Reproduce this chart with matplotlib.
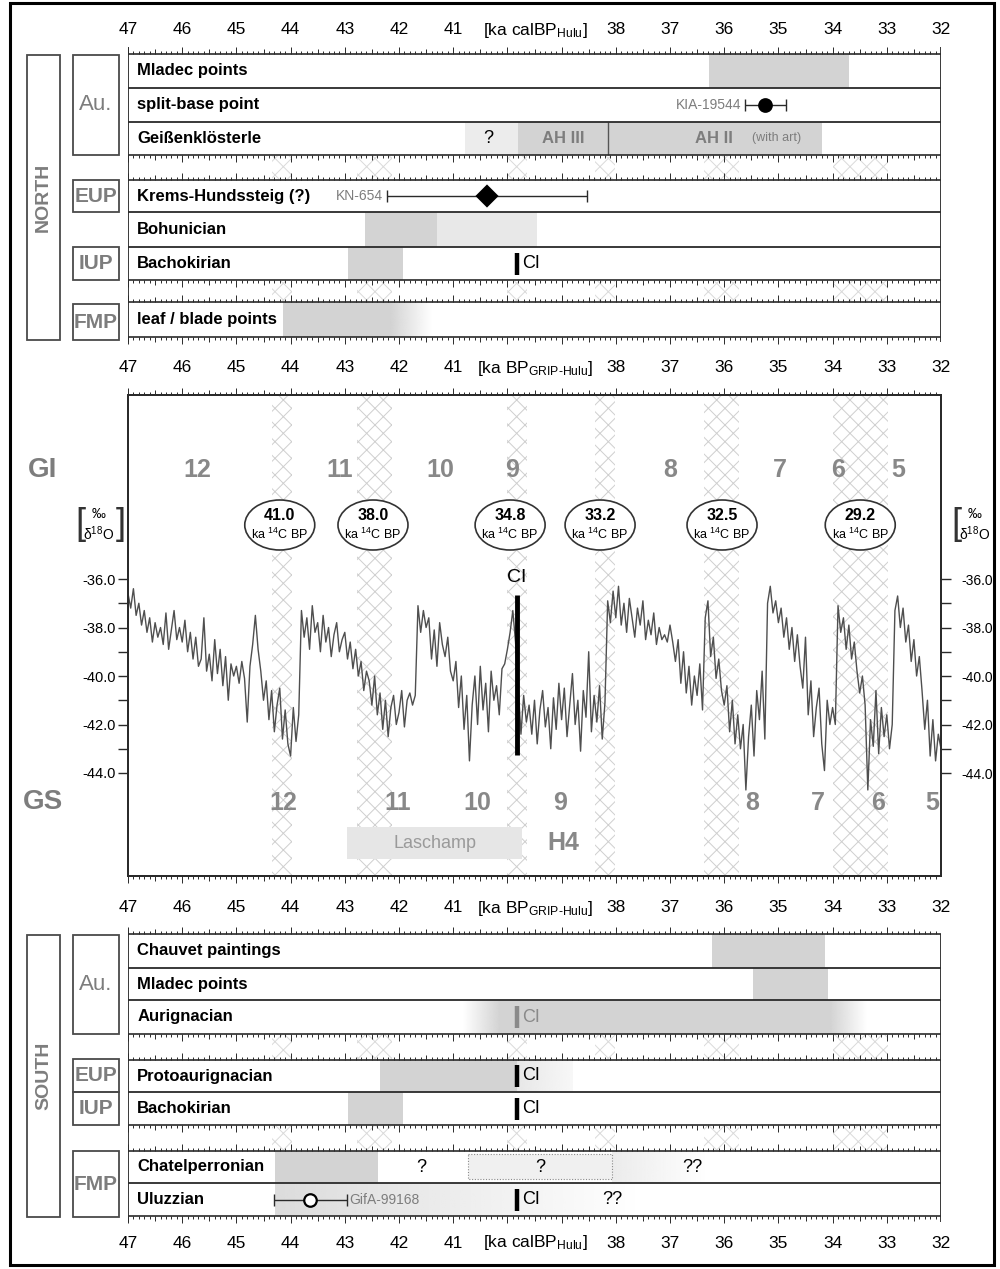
import numpy as np
import matplotlib
matplotlib.use("Agg")
import matplotlib.pyplot as plt
import matplotlib.colors as mcolors
from matplotlib.patches import Rectangle, Ellipse

plt.rcParams["font.family"] = ["Liberation Sans", "DejaVu Sans"]
plt.rcParams["mathtext.fontset"] = "custom"
plt.rcParams["mathtext.rm"] = "Liberation Sans"
plt.rcParams["mathtext.bf"] = "Liberation Sans:bold"
plt.rcParams["mathtext.default"] = "regular"
plt.rcParams["hatch.linewidth"] = 0.7

# ---- age axis ----
AGE_TICKS = [47, 46, 45, 44, 43, 42, 41, 38, 37, 36, 35, 34, 33, 32]

# ---- NGRIP d18O (permil), sampled every 0.05 ka from 47.0 to 32.0 ka ----
d18o = np.array([
    # 47.00 - 46.05
    -36.6, -37.2, -36.4, -37.5, -37.0, -37.9, -37.3, -38.2, -37.6, -38.6,
    -37.8, -38.4, -38.0, -38.7, -37.4, -38.9, -38.1, -37.3, -38.5, -38.0,
    # 46.00 - 45.05
    -38.6, -37.7, -39.0, -38.2, -39.3, -38.4, -39.6, -39.3, -37.6, -39.8,
    -39.1, -40.2, -38.5, -39.9, -38.9, -40.4, -39.2, -41.0, -39.5, -40.0,
    # 45.00 - 44.05
    -39.6, -40.3, -39.4, -40.1, -41.9, -39.6, -38.7, -37.5, -38.9, -39.8,
    -41.0, -40.2, -41.8, -40.6, -42.3, -41.2, -40.5, -42.6, -41.4, -42.8,
    # 44.00 - 43.05
    -43.3, -41.3, -42.7, -41.6, -37.3, -38.4, -37.6, -38.9, -37.1, -38.2,
    -37.8, -39.0, -37.5, -38.6, -38.0, -39.2, -38.3, -37.8, -39.0, -38.5,
    # 43.00 - 42.05
    -38.2, -39.3, -38.6, -39.7, -38.9, -40.0, -39.4, -40.6, -39.8, -40.2,
    -41.2, -40.0, -41.6, -40.7, -42.2, -41.0, -42.5, -41.3, -40.8, -42.0,
    # 42.00 - 41.05
    -41.5, -40.6, -42.1, -41.0, -40.7, -41.2, -40.8, -37.1, -38.2, -37.3,
    -38.0, -37.6, -39.3, -38.1, -39.6, -37.8, -38.7, -39.2, -38.4, -39.8,
    # 41.00 - 40.05
    -40.2, -39.4, -41.3, -40.0, -42.2, -40.8, -43.5, -41.2, -40.0, -42.0,
    -39.6, -41.4, -40.3, -42.3, -39.8, -41.0, -40.4, -41.6, -39.7, -39.5,
    # 40.00 - 39.05
    -38.9, -38.2, -37.3, -38.6, -40.5, -42.4, -40.8, -41.9, -41.2, -42.4,
    -41.0, -42.8, -41.4, -40.6, -42.1, -41.3, -43.0, -40.9, -42.2, -40.3,
    # 39.00 - 38.05
    -41.8, -40.5, -42.5, -41.2, -39.9, -42.0, -41.0, -43.1, -40.6, -41.7,
    -39.0, -42.3, -40.8, -41.9, -40.4, -42.6, -41.1, -36.9, -37.8, -36.5,
    # 38.00 - 37.05
    -37.6, -36.3, -37.9, -37.0, -38.2, -36.8, -37.6, -38.4, -37.2, -37.9,
    -36.9, -38.5, -37.7, -38.3, -37.4, -38.7, -38.0, -38.5, -38.3, -38.6,
    # 37.00 - 36.05
    -37.9, -38.6, -39.4, -38.5, -40.3, -39.0, -40.7, -39.6, -41.2, -40.0,
    -40.8, -39.5, -41.4, -37.6, -36.9, -39.2, -38.4, -40.1, -39.3, -40.6,
    # 36.00 - 35.05
    -41.2, -40.4, -42.3, -41.0, -42.8, -41.6, -43.0, -42.0, -44.7, -42.5,
    -41.2, -43.3, -40.6, -41.8, -39.8, -42.6, -37.0, -36.3, -37.4, -36.9,
    # 35.00 - 34.05
    -37.8, -37.2, -38.4, -37.6, -38.9, -38.0, -39.4, -38.3, -39.6, -40.5,
    -38.4, -41.6, -40.2, -42.5, -41.3, -40.5, -42.8, -43.9, -41.0, -42.0,
    # 34.00 - 33.05
    -41.3, -42.0, -37.1, -38.2, -37.6, -38.9, -37.9, -39.3, -38.6, -39.8,
    -40.7, -40.0, -41.2, -44.7, -41.8, -42.9, -40.6, -43.2, -41.3, -42.5,
    # 33.00 - 32.05
    -41.6, -43.0, -42.0, -37.3, -36.7, -38.0, -37.2, -38.6, -37.9, -39.4,
    -38.5, -40.0, -39.2, -40.6, -42.2, -41.0, -43.3, -41.8, -43.5, -42.4,
    # 32.00
    -43.0,
])
d18o_age = np.linspace(47.0, 32.0, d18o.size)

# ---- Greenland interstadials / stadials ----
gi_numbers = ["12", "11", "10", "9", "8", "7", "6", "5"]
gi_label_age = [45.73, 43.09, 41.24, 39.92, 37.00, 34.97, 33.90, 32.79]
gs_numbers = ["12", "11", "10", "9", "8", "7", "6", "5"]
gs_label_age = [44.14, 42.02, 40.56, 39.03, 35.49, 34.27, 33.16, 32.17]

# ---- radiocarbon tie points (hatched bands) ----
band_start = [44.34, 42.77, 40.00, 38.38, 36.37, 33.99]
band_end = [43.97, 42.13, 39.63, 38.01, 35.72, 32.97]
c14_ages = ["41.0", "38.0", "34.8", "33.2", "32.5", "29.2"]
c14_cal = [44.20, 42.48, 39.95, 38.29, 36.04, 33.49]

ci_age = 39.82
laschamp = (42.96, 39.73)
h4_age = 38.97

# ---- NORTH ----
north_rows = ["Mladec points", "split-base point", "Geißenklösterle",
              "Krems-Hundssteig (?)", "Bohunician", "Bachokirian",
              "leaf / blade points"]
mladec_north = (36.28, 33.70)
kia_date, kia_range = 35.25, (35.62, 34.86)
geiss_uncertain = (40.78, 39.80)
geiss_ah3 = (39.80, 38.14)
geiss_ah2 = (38.14, 34.20)
kn_date, kn_range = 40.38, (42.22, 38.53)
bohun_core = (42.63, 41.30)
bohun_late = (41.30, 39.45)
bacho = (42.94, 41.93)
leaf_blade = (44.14, 42.17, 41.40)  # solid start, solid end, fade end

# ---- SOUTH ----
south_rows = ["Chauvet paintings", "Mladec points", "Aurignacian",
              "Protoaurignacian", "Bachokirian", "Chatelperronian", "Uluzzian"]
chauvet = (36.23, 34.14)
mladec_south = (35.47, 34.08)
aurignacian = (40.82, 40.14, 34.05, 33.37)  # fade-in, solid, solid end, fade-out end
proto = (42.35, 39.82, 38.79)
chatel = (44.29, 42.39)
chatel_box = (40.73, 38.07)
chatel_fade = (38.07, 36.34)
uluz_date, uluz_range = 43.64, (44.31, 42.96)
uluz_shade = (44.29, 37.6)

# ---- style ----
LINE = "#2a2a2a"
GREY_TXT = "#7d7d7d"
BAR = "#d3d3d3"
BAR_LIGHT = "#e8e8e8"
HATCH = "#cfcfcf"

W, H = 1000, 1269
X47, X32 = 128, 941          # pixel columns of 47 and 32 ka
PT, PB = 395, 876            # top / bottom of the isotope panel


def d18o_at(ypix):
    return -36.0 - (ypix - 579) / 24.25


fig = plt.figure(figsize=(10, 12.69), dpi=100)

lay = fig.add_axes([0, 0, 1, 1])
lay.set_xlim(0, W)
lay.set_ylim(H, 0)
lay.axis("off")
lay.set_zorder(-2)

ak = fig.add_axes([X47 / W, 0, (X32 - X47) / W, 1])
ak.axis("off")


def ruler(y, up):
    ak.hlines(y, 47, 32, color=LINE, lw=1.2, zorder=4)
    k = np.arange(320, 471)
    length = np.where(k % 10 == 0, 7, np.where(k % 5 == 0, 5, 3))
    sign = -1 if up else 1
    ak.vlines(k / 10, y, y + sign * length, color=LINE, lw=0.7, zorder=4)


def header(y, unit):
    for t in AGE_TICKS:
        ak.text(t, y, str(t), ha="center", va="center", fontsize=12.5)
    ak.text(39.49, y, unit, ha="center", va="center", fontsize=12.5)


def fill(a, b, y0, y1, color=BAR):
    ak.add_patch(Rectangle((a, y0), b - a, y1 - y0, facecolor=color,
                           edgecolor="none", zorder=1))


def fade(a, b, y0, y1, color, a0, a1):
    rgba = np.zeros((1, 128, 4))
    rgba[..., :3] = mcolors.to_rgb(color)
    rgba[..., 3] = np.linspace(a0, a1, 128)
    ak.imshow(rgba, extent=(a, b, y1, y0), aspect="auto",
              interpolation="bilinear", zorder=1)


def row_lines(edges):
    for y in edges[1:-1]:
        ak.hlines(y, 47, 32, color=LINE, lw=1.3, zorder=4)


def strip_hatch(y0, y1):
    for a, b in zip(band_start, band_end):
        ak.add_patch(Rectangle((a, y0), b - a, y1 - y0, facecolor="none",
                               edgecolor="#dadada", hatch="xx", lw=0, zorder=0))


def ci_mark(yc, color="black"):
    ak.vlines(ci_age, yc - 11, yc + 11, color=color, lw=3.2, zorder=5)
    ak.text(ci_age - 0.1, yc, "CI", ha="left", va="center", fontsize=13,
            color=color, zorder=5)


def dated(yc, rng, mid, marker, face, label, label_left):
    ak.hlines(yc, rng[0], rng[1], color=LINE, lw=1.0, zorder=5)
    ak.vlines(rng, yc - 6, yc + 6, color=LINE, lw=1.0, zorder=5)
    ak.plot(mid, yc, marker=marker, ms=9 if marker == "o" else 10, mfc=face,
            mec="black", mew=1.6, zorder=6)
    if label_left:
        ak.text(rng[0] + 0.07, yc, label, ha="right", va="center",
                fontsize=10, color=GREY_TXT)
    else:
        ak.text(rng[1] - 0.05, yc, label, ha="left", va="center",
                fontsize=10, color=GREY_TXT)


def side_box(x, y0, y1, w, text, size, weight="bold", rot=0):
    lay.add_patch(Rectangle((x, y0), w, y1 - y0, fill=False,
                            edgecolor="#4a4a4a", lw=1.3))
    lay.text(x + w / 2, (y0 + y1) / 2, text, ha="center", va="center",
             fontsize=size, fontweight=weight, color=GREY_TXT, rotation=rot)


def row_label(yc, text):
    ak.text(46.83, yc, text, ha="left", va="center", fontsize=12,
            fontweight="bold", zorder=5)


# ================= NORTH =================
header(30, "[ka calBP$_{Hulu}$]")
n_blocks = [[54, 88, 122, 155], [180, 212, 247, 280], [302, 337]]
for blk in n_blocks:
    ruler(blk[0], up=True)
    ruler(blk[-1], up=False)
    row_lines(blk)
ak.vlines([47, 32], 47, 342, color=LINE, lw=1.3, zorder=4)
strip_hatch(156, 179)
strip_hatch(281, 301)

n_centers = [71, 105, 138.5, 196, 229.5, 263.5, 319.5]
for yc, name in zip(n_centers, north_rows):
    row_label(yc, name)

fill(*mladec_north, 54, 88)
dated(105, kia_range, kia_date, "o", "black", "KIA-19544", True)
fill(*geiss_uncertain, 122, 155, "#ececec")
fill(*geiss_ah3, 122, 155)
fill(*geiss_ah2, 122, 155)
ak.vlines(geiss_ah3[1], 122, 155, color="#555555", lw=1.0, zorder=3)
ak.text(40.36, 138.5, "?", ha="center", va="center", fontsize=13)
ak.text(sum(geiss_ah3) / 2, 138.5, "AH III", ha="center", va="center",
        fontsize=12, fontweight="bold", color=GREY_TXT)
ak.text(36.19, 138.5, "AH II", ha="center", va="center", fontsize=12,
        fontweight="bold", color=GREY_TXT)
ak.text(35.03, 138.5, "(with art)", ha="center", va="center", fontsize=9,
        color=GREY_TXT)

dated(196, kn_range, kn_date, "D", "black", "KN-654", True)
fill(*bohun_core, 212, 247)
fill(*bohun_late, 212, 247, BAR_LIGHT)
fill(*bacho, 247, 280)
ci_mark(263.5)
fill(leaf_blade[0], leaf_blade[1], 302, 337)
fade(leaf_blade[1], leaf_blade[2], 302, 337, BAR, 1.0, 0.0)

side_box(27, 55, 340, 33, "NORTH", 14, rot=90)
side_box(73, 55, 155, 46, "Au.", 16, weight="normal")
side_box(73, 180, 212, 46, "EUP", 15)
side_box(73, 247, 280, 46, "IUP", 15)
side_box(73, 304, 340, 46, "FMP", 15)

# ================= ISOTOPE PANEL =================
header(368, "[ka BP$_{GRIP‐Hulu}$]")
ruler(PT, up=True)
ruler(PB, up=False)

ad = fig.add_axes([X47 / W, 1 - PB / H, (X32 - X47) / W, (PB - PT) / H])
ad.set_zorder(-1)
ad.set_facecolor("none")
ad.set_xlim(47, 32)
ad.set_ylim(d18o_at(PB), d18o_at(PT))
for a, b in zip(band_start, band_end):
    ad.axvspan(a, b, facecolor="none", edgecolor=HATCH, hatch="xx", lw=0, zorder=0)
ad.plot(d18o_age, d18o, color="#4f4f4f", lw=1.0, zorder=2)

major = [-36, -38, -40, -42, -44]
minor = [-37, -39, -41, -43]
ad.set_xticks([])
ad.set_yticks(major)
ad.set_yticks(minor, minor=True)
ad.set_yticklabels([f"{v:.1f}" for v in major])
ad.tick_params(axis="y", which="both", direction="out", length=7, width=1.0,
               color=LINE, labelsize=10.5, pad=2)
adr = ad.twinx()
adr.set_ylim(ad.get_ylim())
adr.set_yticks(major)
adr.set_yticks(minor, minor=True)
adr.set_yticklabels([f"{v:.1f}" for v in major])
adr.tick_params(axis="y", which="both", direction="out", length=7, width=1.0,
                color=LINE, labelsize=10, pad=8)
for axis in (ad, adr):
    for sp in axis.spines.values():
        sp.set_linewidth(1.3)
        sp.set_color(LINE)

# GI / GS numbering
lay.text(43, 470, "GI", ha="center", va="center", fontsize=20,
         fontweight="bold", color=GREY_TXT)
lay.text(43, 802, "GS", ha="center", va="center", fontsize=20,
         fontweight="bold", color=GREY_TXT)
for n, a in zip(gi_numbers, gi_label_age):
    ak.text(a, 470, n, ha="center", va="center", fontsize=18,
            fontweight="bold", color="#888888", zorder=5)
for n, a in zip(gs_numbers, gs_label_age):
    ak.text(a, 803, n, ha="center", va="center", fontsize=18,
            fontweight="bold", color="#888888", zorder=5)

# radiocarbon ellipses
for lab, a in zip(c14_ages, c14_cal):
    ak.add_patch(Ellipse((a, 525), 70 / 54.2, 50, facecolor="white",
                         edgecolor="#333333", lw=1.2, zorder=5))
    ak.text(a, 515, lab, ha="center", va="center", fontsize=11.5,
            fontweight="bold", zorder=6)
    ak.text(a, 534, "ka $^{14}$C BP", ha="center", va="center", fontsize=9,
            zorder=6)

# Campanian Ignimbrite
ak.vlines(ci_age, 595, 755, color="black", lw=3.5, zorder=6)
ak.text(ci_age, 578, "CI", ha="center", va="center", fontsize=14, zorder=6)

# Laschamp excursion and Heinrich event 4
fill(laschamp[0], laschamp[1], 827, 859, "#e6e6e6")
ak.text(sum(laschamp) / 2, 843, "Laschamp", ha="center", va="center",
        fontsize=13, color="#9a9a9a", zorder=5)
ak.text(h4_age, 843, "H4", ha="center", va="center", fontsize=18,
        fontweight="bold", color="#888888", zorder=5)

# unit labels of the isotope axis
for xl, brk in ((80, True), (956, False)):
    lay.text(xl, 525, "[", ha="center", va="center", fontsize=26,
             color="#333333")
    lay.text(xl + 19, 514, "‰", ha="center", va="center", fontsize=10)
    lay.text(xl + 19, 534, "δ$^{18}$O", ha="center", va="center", fontsize=10)
    if brk:
        lay.text(xl + 41, 525, "]", ha="center", va="center", fontsize=26,
                 color="#333333")

# ================= SOUTH =================
header(908, "[ka BP$_{GRIP‐Hulu}$]")
s_blocks = [[934, 968, 1000, 1034], [1060, 1092, 1125], [1151, 1183, 1216]]
for blk in s_blocks:
    ruler(blk[0], up=True)
    ruler(blk[-1], up=False)
    row_lines(blk)
ak.vlines([47, 32], 934, 1222, color=LINE, lw=1.3, zorder=4)
strip_hatch(1035, 1059)
strip_hatch(1126, 1150)

s_centers = [951, 984, 1017, 1076, 1108.5, 1167, 1199.5]
for yc, name in zip(s_centers, south_rows):
    row_label(yc, name)

fill(*chauvet, 934, 968)
fill(*mladec_south, 968, 1000)
fade(aurignacian[0], aurignacian[1], 1000, 1034, BAR, 0.0, 1.0)
fill(aurignacian[1], aurignacian[2], 1000, 1034)
fade(aurignacian[2], aurignacian[3], 1000, 1034, BAR, 1.0, 0.0)
ci_mark(1017, "#8a8a8a")

fill(proto[0], proto[1], 1060, 1092)
fade(proto[1], proto[2], 1060, 1092, BAR_LIGHT, 1.0, 0.3)
ci_mark(1076)
fill(*bacho, 1092, 1125)
ci_mark(1108.5)

fill(*chatel, 1151, 1183)
ak.text(41.58, 1167, "?", ha="center", va="center", fontsize=13)
ak.add_patch(Rectangle((chatel_box[0], 1154), chatel_box[1] - chatel_box[0], 25,
                       facecolor="#f0f0f0", edgecolor="#8a8a8a", lw=0.8,
                       ls=(0, (1, 1.5)), zorder=2))
ak.text(sum(chatel_box) / 2, 1167, "?", ha="center", va="center", fontsize=13,
        zorder=5)
fade(chatel_fade[0], chatel_fade[1], 1151, 1183, "#ececec", 1.0, 0.0)
ak.text(36.59, 1167, "??", ha="center", va="center", fontsize=13)

fade(uluz_shade[0], uluz_shade[1], 1183, 1216, "#dcdcdc", 1.0, 0.0)
dated(1199.5, uluz_range, uluz_date, "o", "white", "GifA-99168", False)
ci_mark(1199.5)
ak.text(38.07, 1199.5, "??", ha="center", va="center", fontsize=13)

header(1243, "[ka calBP$_{Hulu}$]")

side_box(27, 935, 1217, 33, "SOUTH", 14, rot=90)
side_box(73, 935, 1034, 46, "Au.", 16, weight="normal")
side_box(73, 1059, 1092, 46, "EUP", 15)
side_box(73, 1092, 1125, 46, "IUP", 15)
side_box(73, 1151, 1217, 46, "FMP", 15)

# outer frame
lay.add_patch(Rectangle((10, 3), 984, 1262, fill=False, edgecolor="black", lw=2.2))

ak.set_xlim(47, 32)
ak.set_ylim(H, 0)

fig.savefig("out.png", dpi=100)
